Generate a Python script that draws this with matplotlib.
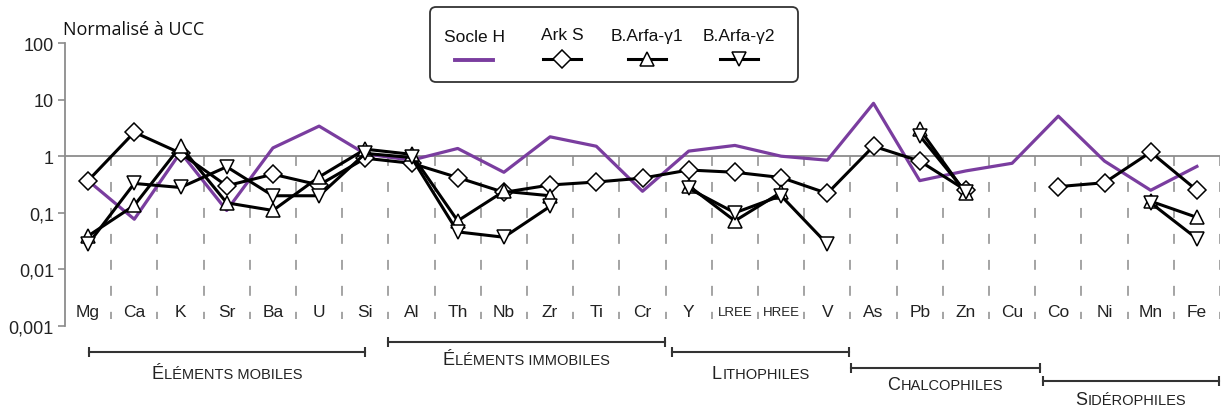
import matplotlib
matplotlib.use("Agg")
import matplotlib.pyplot as plt
import numpy as np
from matplotlib.patches import FancyBboxPatch
from matplotlib.offsetbox import TextArea, HPacker, AnnotationBbox
import matplotlib.transforms as mtransforms

plt.rcParams['font.family'] = ['Liberation Sans', 'DejaVu Sans']

nan = np.nan

# elements (x categories)
elements = ["Mg", "Ca", "K", "Sr", "Ba", "U", "Si", "Al", "Th", "Nb", "Zr", "Ti", "Cr",
            "Y", "LREE", "HREE", "V", "As", "Pb", "Zn", "Cu", "Co", "Ni", "Mn", "Fe"]

# values normalised to UCC
socle_h = [0.37, 0.077, 1.17, 0.11, 1.4, 3.4, 1.1, 0.85, 1.37, 0.52, 2.2, 1.5, 0.24,
           1.23, 1.55, 1.0, 0.85, 8.6, 0.37, 0.55, 0.75, 5.1, 0.82, 0.25, 0.66]
ark_s = [0.37, 2.65, 1.13, 0.30, 0.48, 0.31, 0.92, 0.75, 0.42, 0.23, 0.31, 0.35, 0.41,
         0.57, 0.52, 0.42, 0.22, 1.5, 0.82, 0.25, nan, 0.29, 0.34, 1.18, 0.25]
arfa_g1 = [0.039, 0.135, 1.5, 0.15, 0.11, 0.43, 1.33, 1.08, 0.072, 0.24, 0.20, nan, nan,
           0.30, 0.072, 0.23, nan, nan, 3.0, 0.22, nan, nan, nan, 0.16, 0.083]
arfa_g2 = [0.028, 0.33, 0.28, 0.65, 0.20, 0.20, 1.12, 0.95, 0.046, 0.037, 0.13, nan, nan,
           0.27, 0.10, 0.20, 0.028, nan, 2.3, 0.23, nan, nan, nan, 0.15, 0.035]

series_names = ["Socle H", "Ark S", "B.Arfa-\u03b31", "B.Arfa-\u03b32"]

ytick_vals = [0.001, 0.01, 0.1, 1, 10, 100]
ytick_labels = ["0,001", "0,01", "0,1", "1", "10", "100"]

# groups: (first letter, rest in small caps, x0, x1, bracket y, text y) in figure pixels
groups = [("\u00c9", "L\u00c9MENTS MOBILES", 89, 365, 353, 375),
          ("\u00c9", "L\u00c9MENTS IMMOBILES", 388, 665, 343, 361),
          ("L", "ITHOPHILES", 672, 849, 353, 375),
          ("C", "HALCOPHILES", 851, 1040, 369, 386),
          ("S", "ID\u00c9ROPHILES", 1043, 1219, 382, 401)]

purple = "#7a3d9f"
grey = "#8c8c8c"
W, H = 1221, 410

fig = plt.figure(figsize=(W / 100, H / 100), dpi=100)
ax = fig.add_axes([65 / W, (H - 327) / H, 1155 / W, 283 / H])

x = np.arange(len(elements))
ax.set_yscale("log")
ax.set_ylim(0.001, 100)
ax.set_xlim(-0.5, len(elements) - 0.5)

# separators and reference line
for k in range(len(elements)):
    ax.plot([k + 0.5, k + 0.5], [1, 10 ** -2.88], color=grey, lw=1.1,
            linestyle=(0, (6.5, 10.5)), zorder=1)
ax.axhline(1, color=grey, lw=1.3, zorder=1)

ax.plot(x, socle_h, color=purple, lw=2.3, zorder=2)
mk = dict(color="black", lw=2.2, markerfacecolor="white", markeredgecolor="black",
          markeredgewidth=1.1, zorder=3)
ax.plot(x, ark_s, marker="D", markersize=9, **mk)
ax.plot(x, arfa_g1, marker="^", markersize=10.5, **mk)
ax.plot(x, arfa_g2, marker="v", markersize=10.5, **mk)

for s in ["top", "right", "bottom"]:
    ax.spines[s].set_visible(False)
ax.spines["left"].set_color(grey)
ax.spines["left"].set_linewidth(1.3)
ax.set_yticks(ytick_vals)
ax.set_yticklabels(ytick_labels)
ax.minorticks_off()
ax.tick_params(axis="y", direction="out", length=5, width=1.2, color=grey,
               labelsize=13, labelcolor="#222222", pad=3)
ax.set_xticks([])

trans = mtransforms.blended_transform_factory(ax.transData, ax.transAxes)
for i, el in enumerate(elements):
    fs = 9.5 if "REE" in el else 12.5
    ax.text(i, 0.05, el, transform=trans, ha="center", va="center",
            fontsize=fs, color="#222222")

fig.text(63 / W, 1 - 30 / H, "Normalis\u00e9 \u00e0 UCC", fontsize=13,
         ha="left", va="center", color="#111111", family=["Open Sans", "DejaVu Sans"])

# overlay in pixel coordinates for legend and group brackets
ov = fig.add_axes([0, 0, 1, 1], facecolor="none")
ov.set_xlim(0, W)
ov.set_ylim(H, 0)
ov.axis("off")

box = FancyBboxPatch((430, 8), 368, 75, boxstyle="round,pad=0,rounding_size=6",
                     fill=True, facecolor="white", edgecolor="#333333", lw=1.3, zorder=5)
ov.add_patch(box)
leg_x = [474, 562, 647, 739]
leg_ty = [38, 36, 36, 36]
leg_style = [dict(color=purple, lw=2.8, marker=None),
             dict(color="black", lw=2.2, marker="D", markersize=9),
             dict(color="black", lw=2.2, marker="^", markersize=10.5),
             dict(color="black", lw=2.2, marker="v", markersize=10.5)]
for name, cx, ty, st in zip(series_names, leg_x, leg_ty, leg_style):
    ov.text(cx, ty, name, ha="center", va="center", fontsize=12.5, color="#111111", zorder=6)
    ly = 61 if st["marker"] is None else 60
    ov.plot([cx - 19, cx + 19], [ly, ly], color=st["color"], lw=st["lw"], zorder=6)
    if st["marker"]:
        ov.plot([cx], [ly], marker=st["marker"], markersize=st["markersize"],
                markerfacecolor="white", markeredgecolor="black", markeredgewidth=1.1,
                linestyle="none", zorder=7)

for big, small, x0, x1, yb, yt in groups:
    ov.plot([x0, x1], [yb, yb], color="#333333", lw=1.5)
    ov.plot([x0, x1], [yb, yb], color="#333333", marker="|", markersize=7,
            markeredgewidth=1.5, linestyle="none")
    pk = HPacker(children=[TextArea(big, textprops=dict(fontsize=13, color="#222222")),
                           TextArea(small, textprops=dict(fontsize=10.5, color="#222222"))],
                 align="baseline", pad=0, sep=0.5)
    ab = AnnotationBbox(pk, ((x0 + x1) / 2, yt), xycoords="data", frameon=False,
                        box_alignment=(0.5, 0.5), pad=0)
    ov.add_artist(ab)

fig.savefig("out.png", dpi=100)
